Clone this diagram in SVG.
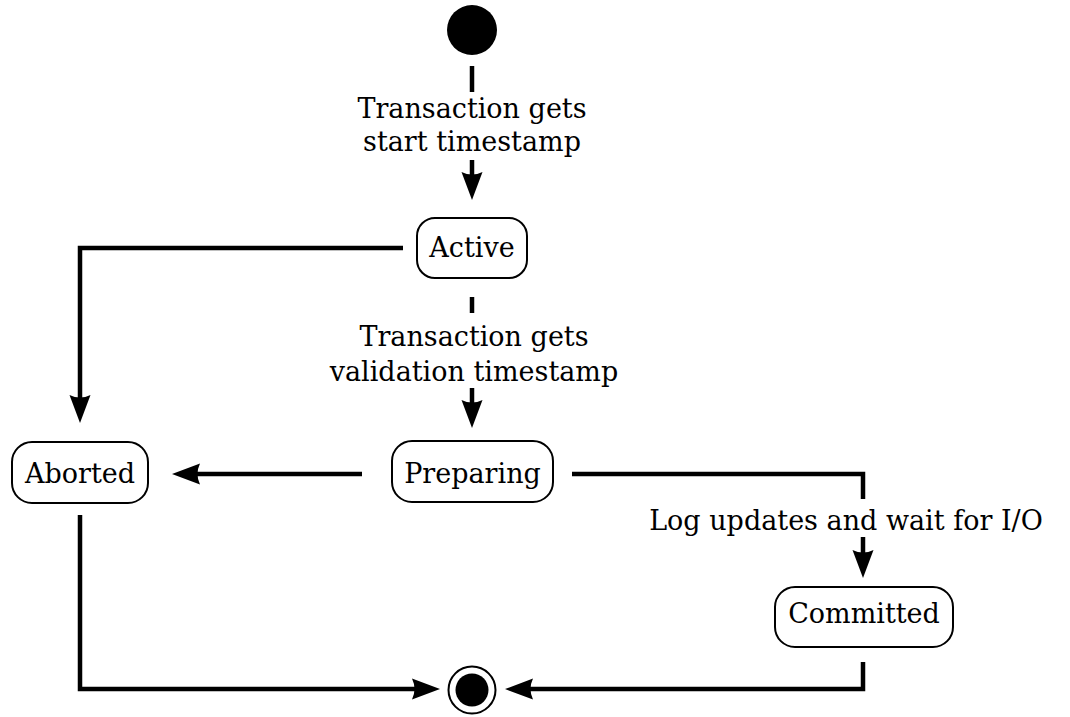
<svg xmlns="http://www.w3.org/2000/svg" width="1070" height="717" viewBox="0 0 1070 717">
  <style>
    .state { fill: #fff; stroke: #000; stroke-width: 2; }
    .lbl { font-family: 'DejaVu Serif', serif; font-size: 27px; fill: #000; text-anchor: middle; }
    .edge { fill: none; stroke: #000; stroke-width: 4.5; }
  </style>
  <defs>
    <marker id="arrow" markerUnits="userSpaceOnUse" markerWidth="32" markerHeight="24" viewBox="-2 -12 32 24" refX="3" refY="0" orient="auto">
      <path d="M0,-10.5 L28,0 L0,10.5 Q5,0 0,-10.5 Z" fill="#000"/>
    </marker>
  </defs>
  <rect width="1070" height="717" fill="#fff"/>

  <!-- transitions -->
  <g id="connectors">
    <!-- initial -> Active -->
    <line class="edge" x1="472" y1="66" x2="472" y2="92"/>
    <line class="edge" x1="472" y1="160" x2="472" y2="175" marker-end="url(#arrow)"/>
    <!-- Active -> Aborted -->
    <path class="edge" d="M403,248 H80 V398" marker-end="url(#arrow)"/>
    <!-- Active -> Preparing -->
    <line class="edge" x1="472" y1="297" x2="472" y2="313"/>
    <line class="edge" x1="472" y1="388" x2="472" y2="403" marker-end="url(#arrow)"/>
    <!-- Preparing -> Aborted -->
    <line class="edge" x1="362" y1="474" x2="197" y2="474" marker-end="url(#arrow)"/>
    <!-- Preparing -> Committed -->
    <path class="edge" d="M572,474 H863 V499"/>
    <line class="edge" x1="863" y1="537" x2="863" y2="553" marker-end="url(#arrow)"/>
    <!-- Committed -> final -->
    <path class="edge" d="M863,662 V689 H530" marker-end="url(#arrow)"/>
    <!-- Aborted -> final -->
    <path class="edge" d="M80,515 V689 H415" marker-end="url(#arrow)"/>

    <text class="lbl"><tspan x="472" y="118">Transaction gets</tspan><tspan x="472" y="151">start timestamp</tspan></text>
    <text class="lbl"><tspan x="474" y="346">Transaction gets</tspan><tspan x="474" y="381">validation timestamp</tspan></text>
    <text class="lbl" x="846" y="530">Log updates and wait for I/O</text>
  </g>

  <g id="initial">
    <circle cx="472" cy="30" r="25" fill="#000"/>
  </g>

  <g id="active">
    <rect class="state" x="417" y="218" width="110" height="60" rx="18"/>
    <text class="lbl" x="472" y="257">Active</text>
  </g>

  <g id="preparing">
    <rect class="state" x="392" y="441" width="161" height="61" rx="20"/>
    <text class="lbl" x="472.5" y="483">Preparing</text>
  </g>

  <g id="aborted">
    <rect class="state" x="12" y="442" width="136" height="61" rx="20"/>
    <text class="lbl" x="80" y="483">Aborted</text>
  </g>

  <g id="committed">
    <rect class="state" x="775" y="587" width="178" height="60" rx="20"/>
    <text class="lbl" x="864" y="623">Committed</text>
  </g>

  <g id="final">
    <circle cx="472" cy="690" r="23.5" fill="#fff" stroke="#000" stroke-width="2"/>
    <circle cx="472" cy="690" r="16.5" fill="#000"/>
  </g>
</svg>
